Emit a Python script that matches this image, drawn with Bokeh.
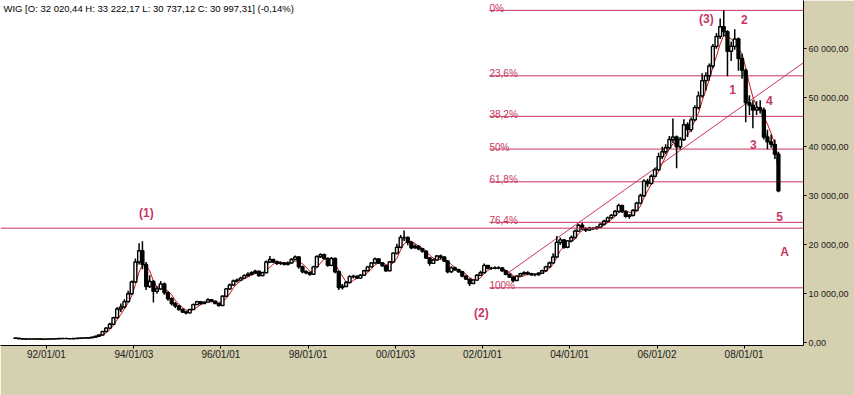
import numpy as np
import pandas as pd
from bokeh.plotting import figure
from bokeh.models import Range1d, FixedTicker, Label, ColumnDataSource, Span
from bokeh.core.properties import value
from bokeh.embed import file_html
from bokeh.resources import INLINE

# ---------------- data (monthly candles) ----------------
first_month = "1991-04-01"
first_open = 1000

closes = [
    930, 840, 780, 750, 790, 810, 770, 730, 760,                                   # 1991 Apr-Dec
    780, 810, 830, 870, 890, 850, 820, 880, 930, 980, 960, 1040,                   # 1992
    1150, 1350, 1600, 2300, 3000, 3800, 5100, 6900, 7300, 8400, 10000, 12400,      # 1993
    16500, 18800, 16000, 11500, 12500, 10500, 11000, 12000, 10200, 9000, 8000, 7500,  # 1994
    6800, 6300, 6100, 6800, 7800, 8400, 8000, 8300, 8800, 8500, 8000, 7600,        # 1995
    9500, 11000, 11800, 12600, 12800, 13200, 13700, 14000, 14300, 14600, 13700, 14300,  # 1996
    16500, 17000, 16500, 16200, 16300, 16000, 16300, 17000, 17500, 15500, 14500, 14300,  # 1997
    14000, 15500, 17600, 18000, 17200, 15800, 17200, 14500, 11300, 11500, 12300, 13500,  # 1998
    13600, 13200, 13800, 14700, 15500, 16300, 17100, 16300, 15700, 14700, 16500, 18300,  # 1999
    19500, 21500, 21500, 20500, 19400, 19700, 19200, 18700, 17300, 16200, 16900, 17700,  # 2000
    17500, 16700, 14500, 15300, 14900, 14500, 13600, 13000, 12100, 12800, 13800, 14300,  # 2001
    15800, 15200, 15200, 15300, 15300, 14700, 14000, 13400, 12700, 13600, 14100, 14300,  # 2002
    14100, 13900, 13900, 14200, 14700, 15500, 16300, 17500, 20500, 21000, 19500, 20800,  # 2003
    21500, 22800, 24000, 23300, 23000, 23400, 23300, 23600, 24200, 24800, 25500, 26000,  # 2004
    26800, 28000, 26800, 25800, 26000, 27000, 28500, 30000, 33000, 32500, 34000, 35300,  # 2005
    38000, 39000, 39800, 41500, 42000, 40000, 41500, 44500, 43500, 45500, 48000, 50400,  # 2006
    53500, 54500, 56500, 60500, 62500, 64500, 63500, 59500, 60500, 62000, 58000, 55600,  # 2007
    49000, 48500, 47500, 48000, 47500, 42000, 41000, 40500, 38500, 30997,                # 2008 Jan-Oct
]

highs = [
    1000, 940, 850, 790, 800, 820, 815, 780, 770,
    800, 820, 850, 880, 910, 895, 860, 890, 945, 995, 990, 1050,
    1180, 1400, 1650, 2400, 3200, 4100, 5300, 7300, 8000, 8900, 10600, 12700,
    17200, 20300, 20700, 16500, 13800, 12800, 11500, 12600, 12300, 10500, 9300, 8400,
    7700, 7000, 6500, 6900, 8000, 8600, 8500, 8500, 9100, 8900, 8600, 8100,
    9700, 11200, 12100, 12900, 13100, 13500, 14000, 14400, 14600, 14900, 14700, 14500,
    16800, 17700, 17100, 16800, 16600, 16500, 16600, 17300, 17800, 17600, 15800, 14800,
    14500, 15700, 17800, 18300, 18200, 17400, 17500, 17400, 14800, 12000, 12600, 13800,
    13900, 13700, 14000, 14900, 15700, 16500, 17400, 17200, 16500, 15900, 16700, 18500,
    20200, 22000, 22900, 21700, 20700, 20100, 19900, 19400, 18900, 17500, 17200, 17900,
    18000, 17600, 16800, 15600, 15500, 15100, 14600, 13800, 13100, 12900, 14000, 14700,
    16200, 15900, 15500, 15600, 15600, 15400, 14800, 14100, 13600, 13800, 14300, 14600,
    14600, 14300, 14200, 14400, 14900, 15700, 16600, 18300, 21800, 21500, 21200, 21000,
    21900, 23100, 24300, 24500, 23600, 23700, 23600, 23800, 24400, 25100, 25800, 26300,
    27100, 28400, 28200, 27000, 26300, 27300, 28800, 30400, 33400, 33500, 34400, 35700,
    38800, 40000, 40500, 42200, 45800, 42300, 42000, 45600, 45000, 46000, 48500, 51300,
    55000, 55200, 57000, 61000, 63200, 66200, 67850, 63800, 61500, 64000, 62300, 59000,
    56000, 50500, 49500, 49300, 49500, 48000, 43500, 42500, 41500, 39000,
]

lows = [
    920, 830, 770, 740, 745, 780, 765, 720, 725,
    750, 770, 800, 825, 860, 840, 810, 815, 875, 925, 950, 955,
    1020, 1120, 1320, 1550, 2200, 2800, 3600, 5000, 6300, 7000, 8200, 9800,
    12200, 16000, 15000, 10800, 11200, 8200, 10000, 10800, 9800, 8600, 7600, 7100,
    6600, 6100, 5800, 6000, 6700, 7700, 7800, 7900, 8200, 8300, 7900, 7400,
    7500, 9300, 10800, 11600, 12300, 12600, 13000, 13500, 13800, 14100, 13500, 13600,
    14200, 16300, 16300, 15900, 15900, 15800, 15800, 16200, 16900, 15100, 14200, 14000,
    13700, 13900, 15400, 17300, 17000, 15500, 15600, 14200, 10800, 10900, 11400, 12200,
    13100, 13000, 13100, 13700, 14600, 15400, 16200, 16100, 15500, 14500, 14600, 16400,
    18000, 19300, 20800, 19900, 19100, 19200, 18900, 18400, 17100, 15700, 16100, 16800,
    17000, 16500, 14200, 14300, 14700, 14300, 13400, 12800, 11600, 12000, 12700, 13700,
    14200, 15000, 14900, 15000, 15000, 14500, 13800, 13200, 12300, 12600, 13500, 13900,
    13800, 13700, 13600, 13800, 14100, 14500, 15300, 16200, 17400, 20000, 19200, 19300,
    20500, 21300, 22600, 23000, 22600, 22800, 23000, 23100, 23400, 24000, 24600, 25300,
    25800, 26600, 26500, 25500, 25300, 25800, 26900, 28300, 29800, 31800, 32300, 33800,
    35000, 37500, 38500, 39500, 40800, 35600, 39500, 41200, 42000, 43000, 45200, 47600,
    50000, 51500, 53500, 56000, 60000, 62000, 62500, 54400, 57500, 59800, 55500, 53900,
    45000, 46500, 43800, 46500, 46800, 41500, 39500, 39800, 37500, 30737,
]

title_text = "WIG [O: 32 020,44  H: 33 222,17  L: 30 737,12  C: 30 997,31] (-0,14%)"

tick_dates = ["1992-01-01", "1994-01-03", "1996-01-01", "1998-01-01", "2000-01-03",
              "2002-01-01", "2004-01-01", "2006-01-02", "2008-01-01"]
tick_labels = ["92/01/01", "94/01/03", "96/01/01", "98/01/01", "00/01/03",
               "02/01/01", "04/01/01", "06/01/02", "08/01/01"]

y_ticks = [0, 10000, 20000, 30000, 40000, 50000, 60000]
y_tick_labels = ["0,00", "10 000,00", "20 000,00", "30 000,00", "40 000,00",
                 "50 000,00", "60 000,00"]

# Fibonacci retracement (wave (2) low -> wave (3) high)
fib_high = 67850
fib_low = 11220
fib_ratios = [0.0, 0.236, 0.382, 0.5, 0.618, 0.764, 1.0]
fib_names = ["0%", "23,6%", "38,2%", "50%", "61,8%", "76,4%", "100%"]
fib_start_date = "2002-02-28"

wave1_level = 23390

trend_dates = ["2002-07-27", "2010-07-01"]
trend_values = [14140, 64350]

wave_labels = ["(1)", "(2)", "(3)", "1", "2", "3", "4", "5", "A"]
wave_dates = ["1994-04-17", "2001-12-23", "2007-02-20", "2007-09-27", "2008-01-04",
              "2008-03-18", "2008-07-31", "2008-10-24", "2008-12-05"]
wave_values = [26590, 6180, 66180, 51690, 66080, 40470, 49550, 25770, 18430]

# ---------------- styling ----------------
FIB = "#c8365f"
BEIGE = "#d4d0b0"
FONT = "Liberation Sans"
DAY = 86400000


def ms(d):
    return int(pd.Timestamp(d).value // 10**6)


dates = pd.date_range(first_month, periods=len(closes), freq="MS") + pd.Timedelta(days=14)
xs = [ms(d) for d in dates]
opens = [first_open] + closes[:-1]

src = ColumnDataSource(dict(
    x=xs, high=highs, low=lows,
    top=list(np.maximum(opens, closes)), bottom=list(np.minimum(opens, closes)),
    fill=["white" if c >= o else "black" for o, c in zip(opens, closes)],
))

red_ma = pd.Series(closes, dtype=float).rolling(4, min_periods=1).mean().tolist()
green_ma = pd.Series(closes, dtype=float).rolling(2, min_periods=1).mean().tolist()

far_right = ms("2011-06-01")

p = figure(width=854, height=395, output_backend="svg", toolbar_location=None,
           x_range=Range1d(ms("1990-12-12"), ms("2009-05-13")),
           y_range=Range1d(-551, 69856),
           y_axis_location="right",
           min_border_left=0, min_border_top=0, min_border_right=51, min_border_bottom=50,
           background_fill_color="white", border_fill_color=BEIGE,
           outline_line_color=None)
p.xgrid.visible = False
p.ygrid.visible = False

# (1) horizontal line across the frame
p.add_layout(Span(location=wave1_level, dimension="width", line_color=FIB, line_width=1))

# fibonacci lines
fib_levels = [fib_high - r * (fib_high - fib_low) for r in fib_ratios]
fx0 = ms(fib_start_date)
p.segment(x0=[fx0] * len(fib_levels), y0=fib_levels, x1=[far_right] * len(fib_levels),
          y1=fib_levels, line_color=FIB, line_width=1)
p.text(x=[fx0] * len(fib_levels), y=fib_levels, text=fib_names,
       text_font=value(FONT), text_font_size="10px", text_color=FIB,
       text_align="left", text_baseline="alphabetic", y_offset=-2)

# trend line
tx = [ms(d) for d in trend_dates]
p.segment(x0=[tx[0]], y0=[trend_values[0]], x1=[tx[1]], y1=[trend_values[1]],
          line_color=FIB, line_width=1)

# moving averages (under the candles)
p.line(xs, red_ma, line_color="#d01010", line_width=1)
p.line(xs, green_ma, line_color="#10a040", line_width=1)

# candles
p.segment(x0="x", y0="high", x1="x", y1="low", source=src, line_color="black", line_width=1.5)
p.vbar(x="x", width=24 * DAY, top="top", bottom="bottom", source=src,
       fill_color="fill", line_color="black", line_width=1.4)

# Elliott wave labels
p.text(x=[ms(d) for d in wave_dates], y=wave_values, text=wave_labels,
       text_font=value(FONT), text_font_style="bold", text_font_size="12px",
       text_color=FIB, text_align="center", text_baseline="middle")

# title
p.add_layout(Label(x=ms("1991-01-06"), y=68220, text=title_text, text_font=FONT,
                   text_font_size="9.5px", text_baseline="middle", text_color="black"))

# axes
tick_ms = [ms(d) for d in tick_dates]
xa = p.xaxis[0]
xa.ticker = FixedTicker(ticks=tick_ms)
xa.major_label_overrides = {t: l for t, l in zip(tick_ms, tick_labels)}
xa.major_tick_in = 0
xa.major_tick_out = 3
xa.minor_tick_line_color = None
xa.axis_line_color = "black"
xa.major_tick_line_color = "black"
xa.major_label_text_font = FONT
xa.major_label_text_font_size = "10px"
xa.major_label_text_color = "#222222"
xa.major_label_standoff = 0

ya = p.yaxis[0]
ya.ticker = FixedTicker(ticks=y_ticks)
ya.major_label_overrides = {t: l for t, l in zip(y_ticks, y_tick_labels)}
ya.major_tick_in = 0
ya.major_tick_out = 3
ya.minor_tick_line_color = None
ya.axis_line_color = "black"
ya.major_tick_line_color = "black"
ya.major_label_text_font = FONT
ya.major_label_text_font_size = "9px"
ya.major_label_text_color = "#222222"
ya.major_label_standoff = 2

open("out.html", "w").write(file_html(p, INLINE))
